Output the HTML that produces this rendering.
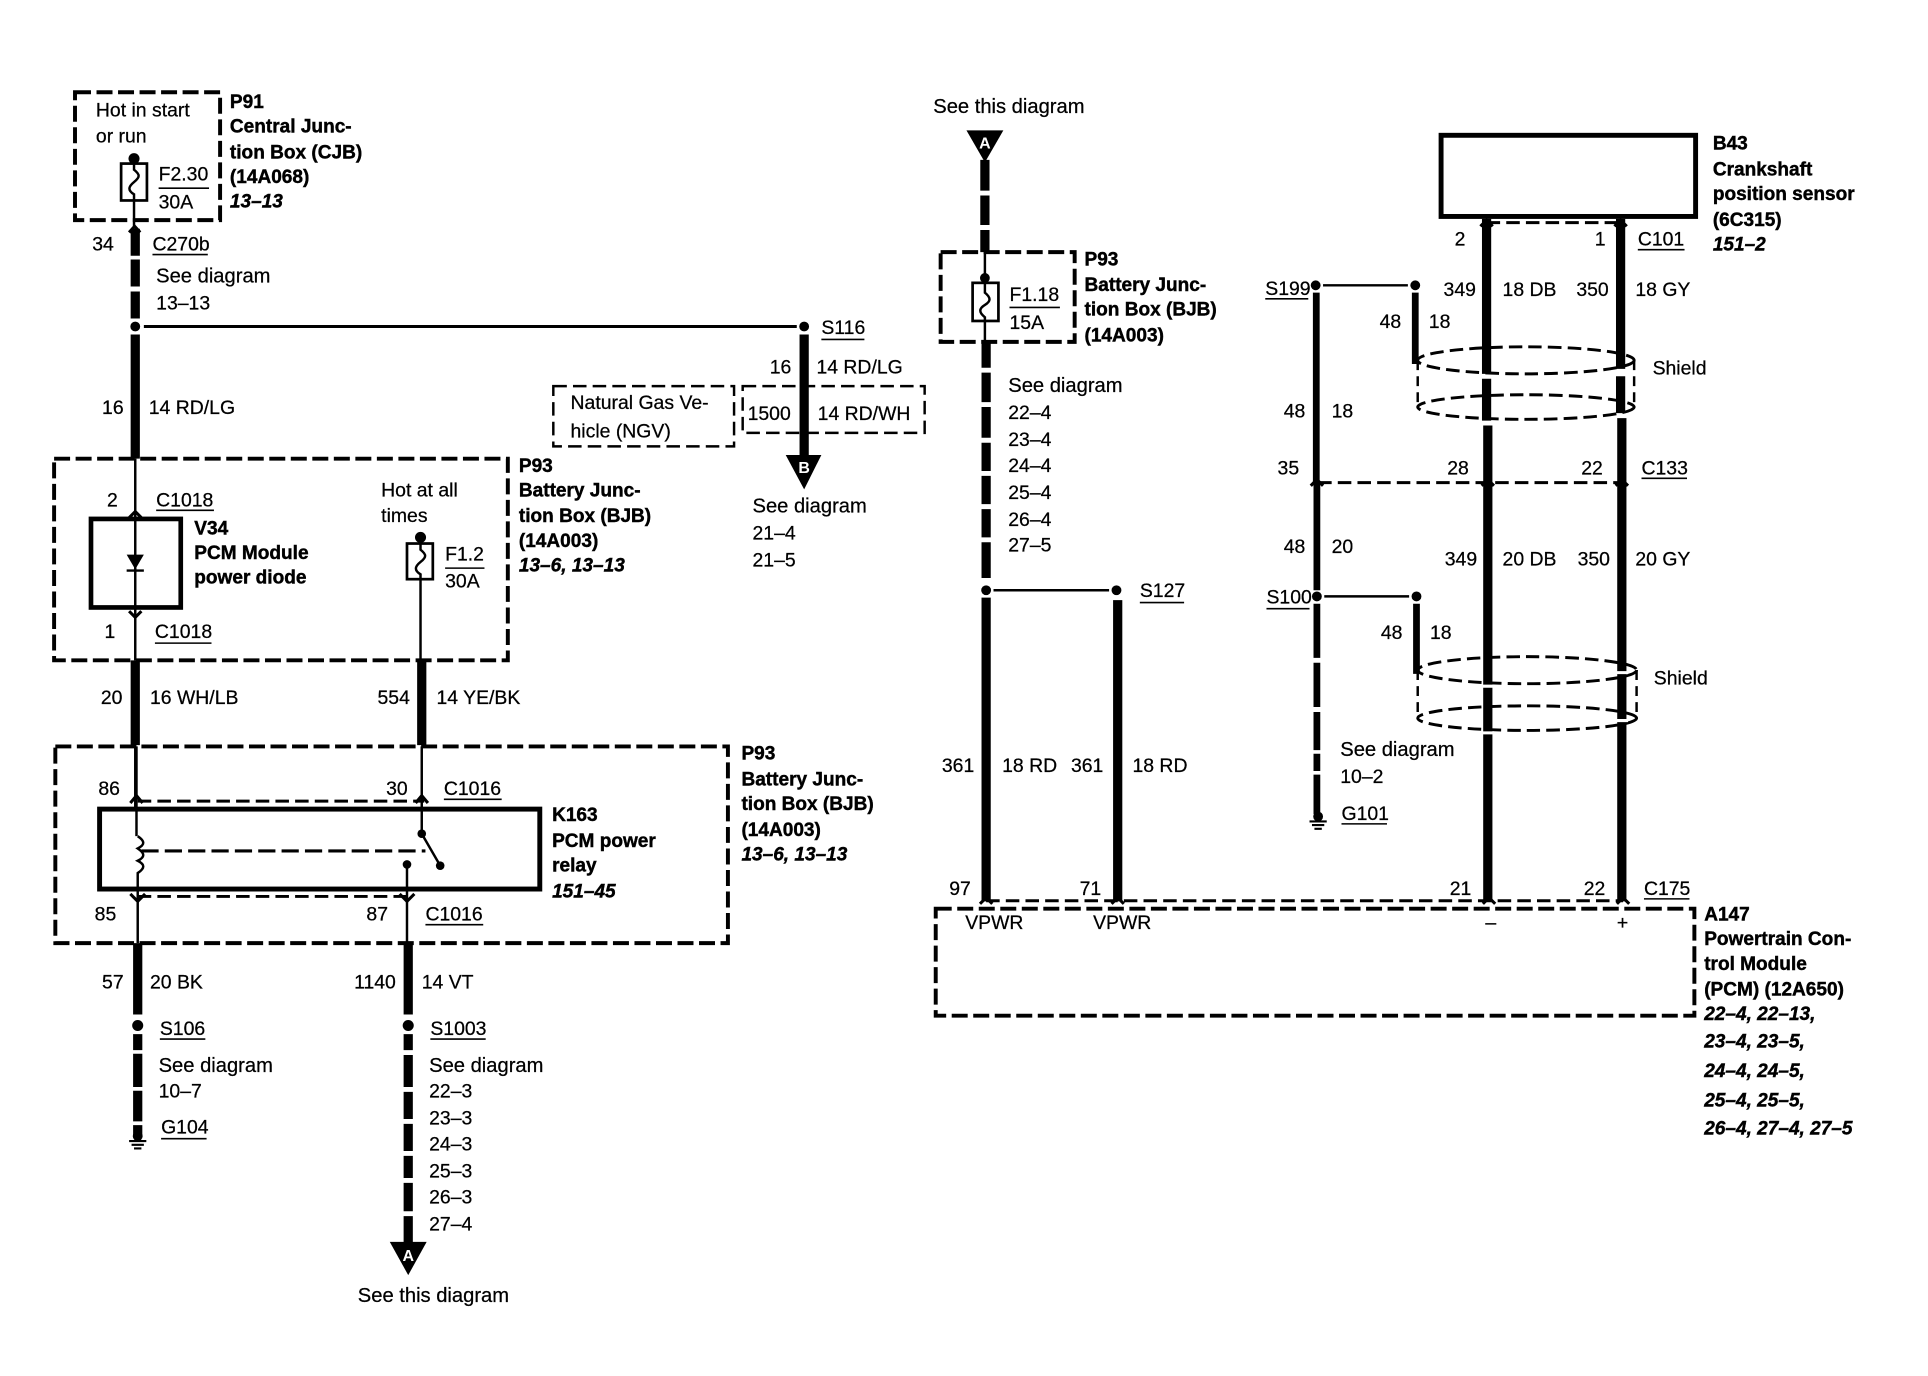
<!DOCTYPE html>
<html><head><meta charset="utf-8"><title>PCM power diagram</title>
<style>
html,body{margin:0;padding:0;background:#fff}
svg{display:block;width:1928px;height:1376px}
text{font-family:"Liberation Sans",sans-serif;font-size:15.8px;fill:#000;stroke:#000;stroke-width:.2px;transform:translateY(.7px)}
.s{font-size:16.4px}
.b{font-weight:700;font-size:15.5px;stroke-width:.35px}
.i{font-weight:700;font-style:italic;font-size:15.5px;stroke-width:.35px}
.w{fill:#fff;stroke:none;font-weight:700;font-size:13px;text-anchor:middle}
.box{fill:none;stroke:#000;stroke-width:3.2;stroke-dasharray:13 4.5}
.thinbox{fill:none;stroke:#000;stroke-width:2;stroke-dasharray:11 5}
.thick{fill:none;stroke:#000;stroke-width:7.5}
.mid{fill:none;stroke:#000;stroke-width:5.5}
.thin{fill:none;stroke:#000;stroke-width:2}
.u{fill:none;stroke:#000;stroke-width:1.3}
.dash{fill:none;stroke:#000;stroke-width:2.4;stroke-dasharray:11 5}
.solid{fill:none;stroke:#000;stroke-width:4}
.chev{fill:none;stroke:#000;stroke-width:2.5}
.gap{fill:none;stroke:#fff;stroke-width:2.5}
</style></head><body>
<svg xmlns="http://www.w3.org/2000/svg" viewBox="0 0 1568 1119">
<rect width="1568" height="1119" fill="#fff"/>

<!-- P91 -->
<rect class="box" x="61" y="75" width="118" height="104"/>
<text x="78" y="94">Hot in start</text><text x="78" y="115">or run</text>
<rect x="98.5" y="133" width="21" height="30" fill="none" stroke="#000" stroke-width="2.2"/>
<circle cx="109" cy="129" r="4.5"/>
<path class="thin" d="M109 129V138C114 142 114 144 109 148C104 152 104 155 109 158V184"/>
<text x="129" y="146">F2.30</text><path class="u" d="M129 153H170"/><text x="129" y="169">30A</text>
<text class="b" x="187" y="87">P91</text><text class="b" x="187" y="107">Central Junc-</text><text class="b" x="187" y="128">tion Box (CJB)</text><text class="b" x="187" y="148">(14A068)</text><text class="i" x="187" y="168">13–13</text>
<path class="chev" d="M105 189L109.500 184L114 189"/>
<path class="thick" d="M110 186V208M110 211V233M110 237V259M110 272V373M110 537V606"/>
<path class="thin" d="M110 373V537M110 606V657"/>
<circle cx="110" cy="265.500" r="4"/>
<text x="75" y="203">34</text><text x="124" y="203">C270b</text><path class="u" d="M124 207H169"/>
<text class="s" x="127" y="229">See diagram</text><text x="127" y="251">13–13</text>
<text x="83" y="336">16</text><text x="121" y="336">14 RD/LG</text>

<!-- S116 branch -->
<path d="M117 265.500H648" fill="none" stroke="#000" stroke-width="2.500"/>
<circle cx="654" cy="265.500" r="4"/>
<text x="668" y="271">S116</text><path class="u" d="M668 276H703"/>
<path class="thick" d="M654 272V372"/>
<polygon points="639,370 668,370 654,398"/><text class="w" x="654" y="384">B</text>
<text x="626" y="303">16</text><text x="664" y="303">14 RD/LG</text>
<rect class="thinbox" x="450" y="314" width="147" height="49"/>
<text x="464" y="332">Natural Gas Ve-</text><text x="464" y="355">hicle (NGV)</text>
<rect class="thinbox" x="604" y="314" width="148" height="38"/>
<text x="608" y="341">1500</text><text x="665" y="341">14 RD/WH</text>
<text class="s" x="612" y="416">See diagram</text><text x="612" y="438">21–4</text><text x="612" y="460">21–5</text>

<!-- P93 first -->
<rect class="box" x="44" y="373" width="369" height="164"/>
<text class="b" x="422" y="383">P93</text><text class="b" x="422" y="403">Battery Junc-</text><text class="b" x="422" y="424">tion Box (BJB)</text><text class="b" x="422" y="444">(14A003)</text><text class="i" x="422" y="464">13–6, 13–13</text>
<text x="87" y="411">2</text><text x="127" y="411">C1018</text><path class="u" d="M127 415H174"/>
<path class="chev" d="M105 421L110 416L115 421"/>
<rect x="74" y="422" width="73" height="72" fill="none" stroke="#000" stroke-width="3.800"/>
<polygon points="103,451 117,451 110,463"/><path d="M103 464H117" stroke="#000" stroke-width="2"/>
<path class="chev" d="M105 497L110 502L115 497"/>
<text class="b" x="158" y="434">V34</text><text class="b" x="158" y="454">PCM Module</text><text class="b" x="158" y="474">power diode</text>
<text x="85" y="518">1</text><text x="126" y="518">C1018</text><path class="u" d="M126 523H172"/>
<text x="310" y="403">Hot at all</text><text x="310" y="424">times</text>
<rect x="331" y="442" width="21" height="29" fill="none" stroke="#000" stroke-width="2.200"/>
<circle cx="342" cy="437" r="4.500"/>
<path class="thin" d="M342 437V447C347 451 347 453 342 457C337 461 337 464 342 467V537"/>
<text x="362" y="455">F1.2</text><path class="u" d="M362 462H394"/><text x="362" y="477">30A</text>
<path class="thick" d="M343 537V606"/>
<text x="82" y="572">20</text><text x="122" y="572">16 WH/LB</text><text x="307" y="572">554</text><text x="355" y="572">14 YE/BK</text>

<!-- P93 relay -->
<rect class="box" x="45" y="607" width="547" height="160"/>
<text class="b" x="603" y="617">P93</text><text class="b" x="603" y="638">Battery Junc-</text><text class="b" x="603" y="658">tion Box (BJB)</text><text class="b" x="603" y="679">(14A003)</text><text class="i" x="603" y="699">13–6, 13–13</text>
<text x="80" y="646">86</text><text x="314" y="646">30</text><text x="361" y="646">C1016</text><path class="u" d="M361 650H408"/>
<path class="dash" d="M112 651.500H345"/>
<path class="chev" d="M106 653L111 647L116 653M338 653L343 647L348 653"/>
<path class="thin" d="M343 607V678M111 607V680"/>
<rect x="81" y="658" width="358" height="65" fill="none" stroke="#000" stroke-width="4"/>
<path class="thin" d="M112 680C118 684 118 687 112 690C118 694 118 697 112 700C118 703 118 706 112 710V767"/>
<path d="M115 692H346" fill="none" stroke="#000" stroke-width="2.500" stroke-dasharray="14 5"/>
<circle cx="343" cy="678" r="3.500"/><circle cx="358" cy="704" r="3.500"/><circle cx="331" cy="703" r="3.500"/>
<path class="thin" d="M343 678L358 704M331 703V767"/>
<path class="dash" d="M112 729H331"/>
<path class="chev" d="M106 727L112 733L118 727M325 727L331 733L337 727"/>
<text class="b" x="449" y="667">K163</text><text class="b" x="449" y="688">PCM power</text><text class="b" x="449" y="708">relay</text><text class="i" x="449" y="729">151–45</text>
<text x="77" y="748">85</text><text x="298" y="748">87</text><text x="346" y="748">C1016</text><path class="u" d="M346 752H393"/>

<path class="thick" d="M112 767V825M332 767V825M112 841V854M112 857V884M112 887V912M112 915V924M332 841V854M332 858V884M332 888V910M332 914V936M332 940V958M332 962V985M332 989V1012"/>
<circle cx="112" cy="834" r="4.500"/><circle cx="332" cy="834" r="4.500"/>
<text x="83" y="803">57</text><text x="122" y="803">20 BK</text><text x="288" y="803">1140</text><text x="343" y="803">14 VT</text>
<text x="130" y="841">S106</text><path class="u" d="M130 845H167"/>
<text class="s" x="129" y="871">See diagram</text><text x="129" y="892">10–7</text>
<text x="131" y="921">G104</text><path class="u" d="M131 926H168"/>
<circle cx="112" cy="924" r="4"/><path d="M105 928H119M107 931H117M109 934H115" stroke="#000" stroke-width="1.700"/>
<text x="350" y="841">S1003</text><path class="u" d="M350 845H395"/>
<text class="s" x="349" y="871">See diagram</text><text x="349" y="892">22–3</text><text x="349" y="914">23–3</text><text x="349" y="935">24–3</text><text x="349" y="957">25–3</text><text x="349" y="978">26–3</text><text x="349" y="1000">27–4</text>
<polygon points="317,1010 347,1010 332,1037"/><text class="w" x="332" y="1025">A</text>
<text class="s" x="291" y="1058">See this diagram</text>

<!-- Right: S127 column -->
<text class="s" x="759" y="91">See this diagram</text>
<polygon points="786,106 816,106 801,132"/><text class="w" x="801" y="120">A</text>
<path class="thick" d="M801 130V155M801 159V183M801 187V205M802 278V299M802 303V327M802 331V356M802 360V383M802 387V410M802 414V437M802 441V470M802 486V733M909 488V733"/>
<rect class="box" x="765" y="205" width="109" height="73"/>
<rect x="791" y="230" width="21" height="31" fill="none" stroke="#000" stroke-width="2.200"/>
<circle cx="801" cy="226" r="4"/>
<path class="thin" d="M801 205V238C806 242 806 245 801 248C796 251 796 254 801 258V278"/>
<text x="821" y="244">F1.18</text><path class="u" d="M821 250H862"/><text x="821" y="267">15A</text>
<text class="b" x="882" y="215">P93</text><text class="b" x="882" y="236">Battery Junc-</text><text class="b" x="882" y="256">tion Box (BJB)</text><text class="b" x="882" y="277">(14A003)</text>
<text class="s" x="820" y="318">See diagram</text><text x="820" y="340">22–4</text><text x="820" y="362">23–4</text><text x="820" y="383">24–4</text><text x="820" y="405">25–4</text><text x="820" y="427">26–4</text><text x="820" y="448">27–5</text>
<circle cx="802" cy="480" r="4"/><circle cx="908" cy="480" r="4"/>
<path d="M808 480H902" fill="none" stroke="#000" stroke-width="2"/>
<text x="927" y="485">S127</text><path class="u" d="M927 490H963"/>
<text x="766" y="627">361</text><text x="815" y="627">18 RD</text><text x="871" y="627">361</text><text x="921" y="627">18 RD</text>

<!-- PCM -->
<text x="772" y="727">97</text><text x="878" y="727">71</text><text x="1179" y="727">21</text><text x="1288" y="727">22</text><text x="1337" y="727">C175</text><path class="u" d="M1337 731H1374"/>
<path class="dash" d="M802 732.500H1320"/>
<path class="chev" d="M797 735L802 730L807 735M904 735L909 730L914 735M1206 735L1211 730L1216 735M1315 735L1320 730L1325 735"/>
<rect class="box" x="761" y="739" width="617" height="87"/>
<text x="785" y="755">VPWR</text><text x="889" y="755">VPWR</text><text x="1208" y="755">–</text><text x="1315" y="755">+</text>
<text class="b" x="1386" y="748">A147</text><text class="b" x="1386" y="768">Powertrain Con-</text><text class="b" x="1386" y="788">trol Module</text><text class="b" x="1386" y="809">(PCM) (12A650)</text>
<text class="i" x="1386" y="829">22–4, 22–13,</text><text class="i" x="1386" y="851">23–4, 23–5,</text><text class="i" x="1386" y="875">24–4, 24–5,</text><text class="i" x="1386" y="899">25–4, 25–5,</text><text class="i" x="1386" y="922">26–4, 27–4, 27–5</text>

<!-- B43 -->
<rect x="1172" y="110" width="207" height="66" fill="none" stroke="#000" stroke-width="4"/>
<text class="b" x="1393" y="121">B43</text><text class="b" x="1393" y="142">Crankshaft</text><text class="b" x="1393" y="162">position sensor</text><text class="b" x="1393" y="183">(6C315)</text><text class="i" x="1393" y="203">151–2</text>
<path class="dash" d="M1209 181H1318"/>
<path class="chev" d="M1204 184L1209 179L1214 184M1313 184L1318 179L1323 184"/>
<path class="thick" d="M1209 178V304M1209 308V342M1210 346V733M1318 178V300M1318 306V336M1319 340V733"/>
<text x="1183" y="199">2</text><text x="1297" y="199">1</text><text x="1332" y="199">C101</text><path class="u" d="M1332 203H1370"/>
<text x="1174" y="240">349</text><text x="1222" y="240">18 DB</text><text x="1282" y="240">350</text><text x="1330" y="240">18 GY</text>

<!-- S199 -->
<text x="1029" y="239">S199</text><path class="u" d="M1029 243H1064"/>
<circle cx="1070" cy="232" r="4"/><circle cx="1151" cy="232" r="4"/>
<path d="M1076 232H1145" fill="none" stroke="#000" stroke-width="2"/>
<path class="mid" d="M1151 238V296M1070.500 238V392M1071 392V480M1071 491V535M1071 539V575M1071 579V610M1071 613V627M1071 630V662"/>
<text x="1122" y="266">48</text><text x="1162" y="266">18</text>
<text x="1044" y="339">48</text><text x="1083" y="339">18</text>

<ellipse cx="1241" cy="293" rx="88" ry="11" class="dash"/>
<ellipse cx="1241" cy="331" rx="88" ry="10" class="dash"/>
<path class="thin" stroke-dasharray="8 5" d="M1153 293V331M1329 293V331"/>
<text x="1344" y="304">Shield</text>

<text x="1039" y="385">35</text><text x="1177" y="385">28</text><text x="1286" y="385">22</text><text x="1335" y="385">C133</text><path class="u" d="M1335 389H1372"/>
<path class="dash" d="M1072 392.500H1320"/>
<path class="chev" d="M1066 395L1071 390L1076 395M1205 395L1210 390L1215 395M1314 395L1319 390L1324 395"/>
<text x="1044" y="449">48</text><text x="1083" y="449">20</text>
<text x="1175" y="459">349</text><text x="1222" y="459">20 DB</text><text x="1283" y="459">350</text><text x="1330" y="459">20 GY</text>

<text x="1030" y="490">S100</text><path class="u" d="M1030 495H1065"/>
<circle cx="1071" cy="485" r="4"/><circle cx="1152" cy="485" r="4"/>
<path d="M1077 485H1146" fill="none" stroke="#000" stroke-width="2"/>
<path class="mid" d="M1152 491V548"/>
<text x="1123" y="519">48</text><text x="1163" y="519">18</text>
<ellipse cx="1242" cy="545" rx="89" ry="11" class="dash"/>
<ellipse cx="1242" cy="584" rx="89" ry="10" class="dash"/>
<path class="thin" stroke-dasharray="8 5" d="M1153 545V584M1331 545V584"/>
<path class="gap" d="M1206 558H1215M1206 596H1215M1315 547H1324M1315 586H1324"/>
<text x="1345" y="556">Shield</text>
<text class="s" x="1090" y="614">See diagram</text><text x="1090" y="636">10–2</text>
<text x="1091" y="666">G101</text><path class="u" d="M1091 670H1128"/>
<circle cx="1072" cy="664" r="4"/><path d="M1065 668H1079M1067 671H1077M1069 674H1075" stroke="#000" stroke-width="1.700"/>
</svg>
</body></html>
